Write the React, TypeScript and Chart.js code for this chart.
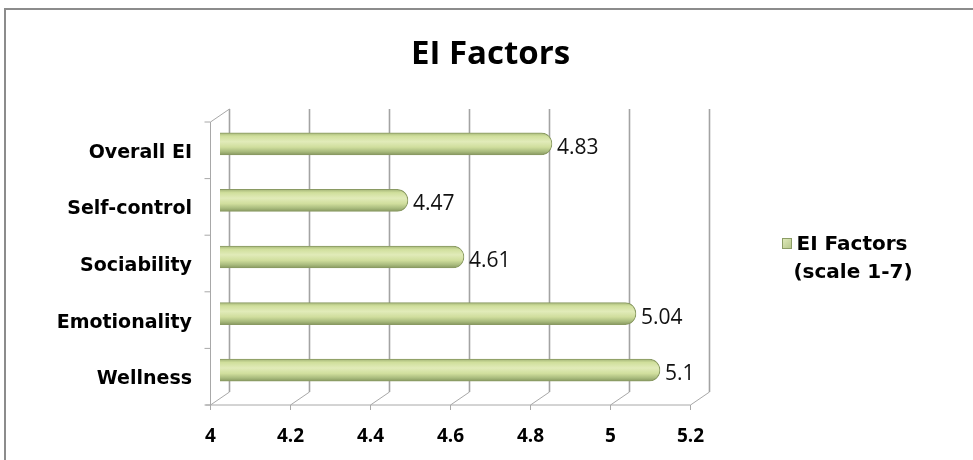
import React, { useEffect, useRef } from "react";
import { Chart, registerables } from "chart.js";

Chart.register(...registerables);

const titleText = "EI Factors";
const categories = ["Overall EI", "Self-control", "Sociability", "Emotionality", "Wellness"];
const values = [4.83, 4.47, 4.61, 5.04, 5.1];
const seriesLabel = "EI Factors (scale 1-7)";
const legendLines = ["EI Factors", "(scale 1-7)"];
const xMin = 4;
const xMax = 5.2;
const xStep = 0.2;

const DX = 9.5; // half depth offset (x)
const DY = 6.5; // half depth offset (y)
const BAR_T = 22;

function barGradient(ctx: CanvasRenderingContext2D, top: number, bottom: number) {
  const g = ctx.createLinearGradient(0, top, 0, bottom);
  g.addColorStop(0, "#a5b678");
  g.addColorStop(0.15, "#d0df9c");
  g.addColorStop(0.4, "#e1ebb9");
  g.addColorStop(0.65, "#d0de9d");
  g.addColorStop(0.85, "#aabc7e");
  g.addColorStop(1, "#879860");
  return g;
}

const framePlugin = {
  id: "frame3d",
  beforeDraw(chart: any) {
    const ctx = chart.ctx as CanvasRenderingContext2D;
    const xs = chart.scales.x;
    const area = chart.chartArea;
    ctx.save();
    ctx.fillStyle = "#ffffff";
    ctx.fillRect(0, 0, chart.width, chart.height);
    // outer frame
    ctx.strokeStyle = "#8c8c8c";
    ctx.lineWidth = 2;
    ctx.strokeRect(5, 9, 1000, 500);

    // title
    ctx.fillStyle = "#000000";
    ctx.font = "bold 33px 'Open Sans'";
    ctx.textAlign = "center";
    ctx.textBaseline = "middle";
    ctx.fillText(titleText, chart.width / 2 + 4, 55);

    // back wall gridlines
    ctx.lineWidth = 1.6;
    ctx.strokeStyle = "#a3a3a3";
    const ticks = xs.ticks;
    for (const t of ticks) {
      const px = xs.getPixelForValue(t.value) + DX;
      ctx.beginPath();
      ctx.moveTo(px, area.top - DY);
      ctx.lineTo(px, area.bottom - DY);
      ctx.stroke();
    }
    // floor diagonals and front ticks
    ctx.lineWidth = 1;
    ctx.strokeStyle = "#a8a8a8";
    for (const t of ticks) {
      const px = xs.getPixelForValue(t.value);
      ctx.beginPath();
      ctx.moveTo(px + DX, area.bottom - DY);
      ctx.lineTo(px - DX, area.bottom + DY);
      ctx.stroke();
      ctx.beginPath();
      ctx.moveTo(px - DX, area.bottom + DY);
      ctx.lineTo(px - DX, area.bottom + DY + 5);
      ctx.stroke();
    }
    // front bottom axis
    ctx.beginPath();
    ctx.moveTo(xs.left - DX - 5, area.bottom + DY);
    ctx.lineTo(xs.right - DX, area.bottom + DY);
    ctx.stroke();
    // front left axis
    ctx.beginPath();
    ctx.moveTo(xs.left - DX, area.top + DY);
    ctx.lineTo(xs.left - DX, area.bottom + DY);
    ctx.stroke();
    // top-left diagonal
    ctx.beginPath();
    ctx.moveTo(xs.left - DX, area.top + DY);
    ctx.lineTo(xs.left + DX, area.top - DY);
    ctx.stroke();
    // category boundary ticks on left axis
    const n = categories.length;
    const catH = (area.bottom - area.top) / n;
    for (let i = 0; i <= n; i++) {
      const yy = area.top + DY + i * catH;
      ctx.beginPath();
      ctx.moveTo(xs.left - DX - 6, yy);
      ctx.lineTo(xs.left - DX, yy);
      ctx.stroke();
    }

    // legend
    const lx = 782, ly = 238;
    const lg = ctx.createLinearGradient(lx, ly, lx + 10, ly + 11);
    lg.addColorStop(0, "#e3edbe");
    lg.addColorStop(1, "#b3c488");
    ctx.fillStyle = lg;
    ctx.fillRect(lx, ly, 10, 11);
    ctx.strokeStyle = "#8c9d66";
    ctx.lineWidth = 1;
    ctx.strokeRect(lx + 0.5, ly + 0.5, 9, 10);
    ctx.fillStyle = "#000000";
    ctx.font = "bold 20px 'DejaVu Sans'";
    ctx.textAlign = "center";
    ctx.textBaseline = "middle";
    ctx.fillText(legendLines[0], 852, 245);
    ctx.fillText(legendLines[1], 853, 273);
    ctx.restore();
  },
  afterDatasetsDraw(chart: any) {
    const ctx = chart.ctx as CanvasRenderingContext2D;
    const meta = chart.getDatasetMeta(0);
    const data = chart.data.datasets[0].data as number[];
    ctx.save();
    ctx.fillStyle = "#111111";
    ctx.font = "21px 'Open Sans'";
    ctx.textAlign = "left";
    ctx.textBaseline = "middle";
    meta.data.forEach((el: any, i: number) => {
      ctx.fillText(String(data[i]), el.x + 5, el.y + 4);
    });
    ctx.restore();
  },
};

export default function App() {
  const ref = useRef<HTMLCanvasElement | null>(null);
  useEffect(() => {
    document.body.style.margin = "0";
    const canvas = ref.current!;
    const chart = new Chart(canvas, {
      type: "bar",
      data: {
        labels: categories,
        datasets: [
          {
            label: seriesLabel,
            data: values,
            barThickness: BAR_T,
            borderWidth: 1,
            borderColor: "#8a9a63",
            borderRadius: 11,
            borderSkipped: false,
            backgroundColor: (c: any) => {
              if (c.type !== "data") return "#d3e1a0";
              const ys = c.chart.scales && c.chart.scales.y;
              if (!ys) return "#d3e1a0";
              const cy = ys.getPixelForValue(c.dataIndex);
              if (!Number.isFinite(cy)) return "#d3e1a0";
              return barGradient(c.chart.ctx, cy - BAR_T / 2, cy + BAR_T / 2);
            },
          } as any,
        ],
      },
      options: {
        indexAxis: "y",
        responsive: false,
        animation: false,
        devicePixelRatio: 1,
        layout: { padding: { top: 115.5, right: 273, left: 0, bottom: 0 } },
        plugins: {
          legend: { display: false },
          title: { display: false },
          tooltip: { enabled: false },
        },
        scales: {
          x: {
            type: "linear",
            min: xMin,
            max: xMax,
            grid: { display: false, drawTicks: false },
            border: { display: false },
            afterFit: (s: any) => {
              s.height = 61.5;
            },
            ticks: {
              stepSize: xStep,
              labelOffset: -DX,
              padding: 27,
              color: "#000000",
              font: { family: "'Open Sans'", size: 19, weight: "bold" },
              callback: (v: any) => String(Number(Number(v).toFixed(1))),
            },
          },
          y: {
            type: "category",
            grid: { display: false, drawTicks: false },
            border: { display: false },
            afterFit: (s: any) => {
              s.width = 220;
            },
            ticks: {
              padding: 28,
              labelOffset: 9,
              color: "#000000",
              font: { family: "'DejaVu Sans'", size: 19, weight: "bold" },
            },
          },
        },
      },
      plugins: [framePlugin],
    } as any);
    return () => chart.destroy();
  }, []);
  return <canvas ref={ref} width={973} height={460} style={{ display: "block" }} />;
}
